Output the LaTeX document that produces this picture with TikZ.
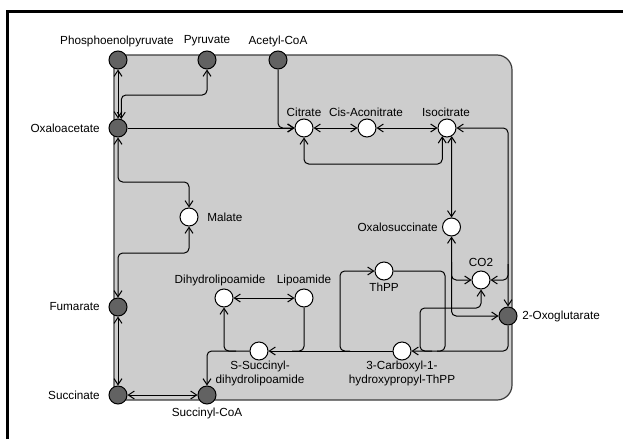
\documentclass[tikz,border=0pt]{standalone}
\usepackage{fontspec}
\setmainfont{Liberation Sans}
\usetikzlibrary{arrows.meta}
\definecolor{metdark}{RGB}{98,98,98}
\definecolor{cellfill}{RGB}{205,205,205}
\definecolor{cellline}{RGB}{60,60,60}
\tikzset{
  met/.style={circle,draw=black,fill=white,line width=0.75pt,minimum size=13.5pt,inner sep=0pt},
  metext/.style={met,fill=metdark},
  mlabel/.style={font=\fontsize{8.8}{10.5}\selectfont,inner sep=0pt,align=center},
  rxn/.style={draw=black,line width=0.75pt,rounded corners=3.5pt},
  >={Straight Barb[length=4.5pt,width=6pt]}
}

\begin{document}
\begin{tikzpicture}[x=0.75pt,y=0.75pt,yscale=-1,xscale=1]
\useasboundingbox (0,0) rectangle (623,439);

%Frame
\draw[line width=2.25pt] (7.5,439) -- (7.5,11.3) -- (623,11.3);
%Compartment
\draw[fill=cellfill,draw=cellline,line width=0.9pt] (114,55) -- (497,55) .. controls (505.3,55) and (512,61.7) .. (512,70) -- (512,385) .. controls (512,393.3) and (505.3,400) .. (497,400) -- (114,400) -- cycle;

%Metabolites (outside)
\node[metext] (pep) at (118,60) {};
\node[metext] (pyr) at (207,60) {};
\node[metext] (acoa) at (278,60) {};
\node[metext] (oaa) at (118,128) {};
\node[metext] (fum) at (118,307) {};
\node[metext] (suc) at (118,395) {};
\node[metext] (scoa) at (207,395) {};
\node[metext] (ogl) at (508,316) {};
%Metabolites (inside)
\node[met] (cit) at (304,128) {};
\node[met] (cis) at (367,128) {};
\node[met] (icit) at (447,128) {};
\node[met] (mal) at (189,217) {};
\node[met] (osuc) at (451.5,227) {};
\node[met] (co2) at (481,280) {};
\node[met] (thpp) at (384,271) {};
\node[met] (chp) at (402,351) {};
\node[met] (dhl) at (224,298) {};
\node[met] (lip) at (304,298) {};
\node[met] (ssdl) at (259,351) {};

%Junctions
\coordinate (j1) at (508,264);
\coordinate (j2) at (451.5,262);
\coordinate (j3) at (432,351);
\coordinate (j4) at (445,351);
\coordinate (j5) at (350,351);
\coordinate (j6) at (292,351);
\coordinate (j7) at (236,351);

%Reactions
\draw[rxn,<->] (pep) -- (oaa);
\draw[rxn,<->] (pyr.south) |- (oaa.70 |- 0,95) -- (oaa.70);
\draw[rxn,->] (acoa.south) |- (cit.west);
\draw[rxn,->] (oaa.east) -- (cit.west);
\draw[rxn,<->] (cit) -- (cis);
\draw[rxn,<->] (cis) -- (icit);
\draw[rxn,<->] (cit.south) -- (cit.south |- 0,164) -| (icit.-120);
\draw[rxn,<->] (icit.-60) -- (osuc.north);
\draw[rxn,<->] (icit.east) -| (ogl.north);
\draw[rxn,->] (j1) |- (co2.east);
\draw[rxn,<->] (osuc.south) |- (ogl.west);
\draw[rxn,->] (j2) |- (co2.west);
\draw[rxn,->] (ogl.south) |- (chp.east);
\draw[rxn] (thpp.east) -| (j4) -- ++(-8,0);
\draw[rxn,->] (j3) -| (420,308) -| (co2.south);
\draw[rxn,->] (chp.west) -- (ssdl.east);
\draw[rxn] (lip.south) |- (j6);
\draw[rxn,->] (j5) -| (340,271) -- (thpp.west);
\draw[rxn,->] (ssdl.west) -| (scoa.north);
\draw[rxn,->] (j7) -| (dhl.south);
\draw[rxn,<->] (dhl) -- (lip);
\draw[rxn,<->] (oaa.south) |- (mal.north |- 0,182) -- (mal.north);
\draw[rxn,<->] (mal.south) |- (fum.north |- 0,253) -- (fum.north);
\draw[rxn,<->] (fum) -- (suc);
\draw[rxn,<->] (suc) -- (scoa);

% Text Node
\node[mlabel] (l-pep) at (117,41) {Phosphoenolpyruvate};
\node[mlabel] (l-pyr) at (207,41) {Pyruvate};
\node[mlabel] (l-acoa) at (278,41) {Acetyl-CoA};
\node[mlabel,anchor=east] (l-oaa) at (100,128) {Oxaloacetate};
\node[mlabel] (l-cit) at (304,112) {Citrate};
\node[mlabel] (l-cis) at (366,112) {Cis-Aconitrate};
\node[mlabel] (l-icit) at (446,112) {Isocitrate};
\node[mlabel,anchor=west] (l-mal) at (207,217) {Malate};
\node[mlabel,anchor=east] (l-osuc) at (438,227) {Oxalosuccinate};
\node[mlabel] (l-co2) at (481,262) {CO2};
\node[mlabel,anchor=west] (l-ogl) at (522,316) {2-Oxoglutarate};
\node[mlabel] (l-thpp) at (384,287) {ThPP};
\node[mlabel] (l-chp) at (402,373) {3-Carboxyl-1-\\hydroxypropyl-ThPP};
\node[mlabel] (l-dhl) at (220,280) {Dihydrolipoamide};
\node[mlabel] (l-lip) at (304,280) {Lipoamide};
\node[mlabel] (l-ssdl) at (260,373) {S-Succinyl-\\dihydrolipoamide};
\node[mlabel,anchor=east] (l-fum) at (100,307) {Fumarate};
\node[mlabel,anchor=east] (l-suc) at (100,395) {Succinate};
\node[mlabel] (l-scoa) at (207,413) {Succinyl-CoA};

\end{tikzpicture}
\end{document}
